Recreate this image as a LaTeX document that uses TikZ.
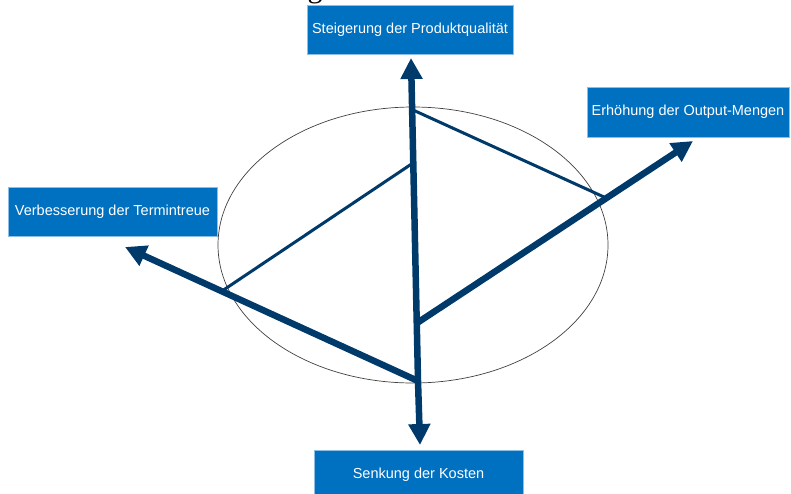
\documentclass[tikz,border=0pt]{standalone}
\usepackage{fontspec}
\setmainfont{Liberation Sans}
\newfontfamily\titlefont{Liberation Serif}
\usetikzlibrary{arrows.meta}

\definecolor{boxblue}{RGB}{0,112,192}
\definecolor{axisblue}{RGB}{0,58,107}

\tikzset{
  goal/.style={fill=boxblue, draw=boxblue!45, line width=0.8pt, text=white,
    font=\fontsize{14.5}{17}\selectfont, minimum height=49pt, inner sep=0pt},
  axis/.style={axisblue, line width=6.5pt,
    -{Triangle[length=21pt,width=21pt]}},
  link/.style={axisblue, line width=3pt},
}

\begin{document}
\begin{tikzpicture}[x=1pt,y=-1pt]
  \clip (0,0) rectangle (791,493);

  % cut-off title
  \node[font=\titlefont\fontsize{30}{30}\selectfont, anchor=base, inner sep=0pt]
    (titlefrag) at (315,-3) {g};

  % goals
  \node[goal, minimum width=206pt] (quality) at (410,30)
    {Steigerung der Produktqualität};
  \node[goal, minimum width=202pt, minimum height=50pt] (output) at (688,112)
    {Erhöhung der Output-Mengen};
  \node[goal, minimum width=209pt] (dates) at (112.5,211.5)
    {Verbesserung der Termintreue};
  \node[goal, minimum width=209pt] (costs) at (418.5,474.5)
    {Senkung der Kosten};

  % ellipse
  \draw[black!75, line width=0.7pt] (413,245) ellipse [x radius=195pt, y radius=138pt];

  % axes
  \coordinate (up) at (411,58);
  \coordinate (down) at (420,445);
  \coordinate (left) at (125,247);
  \coordinate (right) at (693,141);
  \coordinate (base) at (418,381);
  \coordinate (mid) at (417,323);
  \draw[axis] (base) -- (up);
  \draw[axis] (base) -- (down);
  \draw[axis] (base) -- (left);
  \draw[axis] (mid) -- (right);

  % links
  \coordinate (a) at (413,163);
  \coordinate (b) at (222,291);
  \coordinate (c) at (413,110);
  \coordinate (d) at (604,197);
  \draw[link] (a) -- (b);
  \draw[link] (c) -- (d);
\end{tikzpicture}
\end{document}
